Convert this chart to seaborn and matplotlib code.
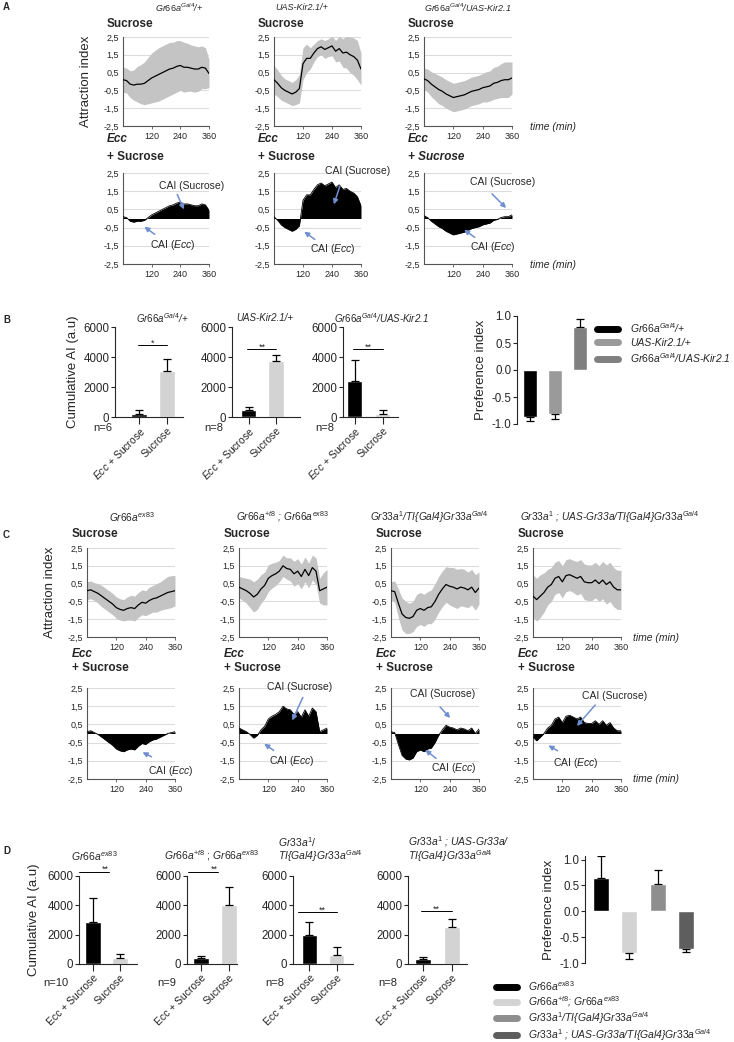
import numpy as np
import matplotlib
matplotlib.use('Agg')
import matplotlib.pyplot as plt
import seaborn as sns
from matplotlib.lines import Line2D

W, H = 734, 1042

# ---- data -------------------------------------------------------------
time_min = np.arange(0, 361, 15)

# attraction index (mean / SD), one value every 15 min
a_gal4_mean = [0.10, 0.05, -0.15, -0.20, -0.15, -0.15, -0.10, 0.05, 0.20, 0.30, 0.40, 0.50, 0.60,
               0.70, 0.75, 0.85, 0.90, 0.80, 0.80, 0.75, 0.70, 0.70, 0.80, 0.75, 0.45]
a_gal4_sd = [0.70, 0.70, 0.75, 0.85, 1.00, 1.10, 1.20, 1.30, 1.40, 1.45, 1.50, 1.50, 1.50,
             1.50, 1.45, 1.45, 1.40, 1.40, 1.35, 1.30, 1.30, 1.25, 1.20, 1.15, 0.80]
a_kir_mean = [0.10, -0.10, -0.35, -0.50, -0.60, -0.70, -0.60, -0.40, 1.00, 1.30, 1.30, 1.60, 1.85,
              1.95, 1.80, 1.90, 2.00, 1.70, 1.85, 1.60, 1.65, 1.50, 1.40, 1.20, 0.70]
a_kir_sd = [0.80, 0.75, 0.70, 0.65, 0.65, 0.65, 0.70, 0.80, 0.90, 0.80, 0.60, 0.50, 0.45,
            0.45, 0.50, 0.50, 0.55, 0.60, 0.70, 0.80, 0.90, 1.00, 1.05, 1.10, 0.90]
a_gal4kir_mean = [0.15, 0.05, -0.15, -0.30, -0.45, -0.55, -0.70, -0.80, -0.90, -0.85, -0.80, -0.75, -0.65,
                  -0.55, -0.50, -0.45, -0.35, -0.30, -0.25, -0.10, -0.05, 0.05, 0.10, 0.10, 0.20]
a_gal4kir_sd = [0.60, 0.65, 0.70, 0.75, 0.80, 0.80, 0.80, 0.80, 0.80, 0.80, 0.80, 0.80, 0.80,
                0.80, 0.80, 0.80, 0.80, 0.85, 0.85, 0.90, 0.90, 0.95, 1.00, 1.00, 0.90]

c_ex83_mean = [0.10, 0.15, 0.05, -0.05, -0.20, -0.35, -0.50, -0.65, -0.85, -0.95, -1.00, -0.90, -0.85,
               -0.90, -0.70, -0.55, -0.60, -0.45, -0.35, -0.30, -0.20, -0.10, 0.00, 0.05, 0.10]
c_ex83_sd = [0.50, 0.50, 0.50, 0.55, 0.60, 0.60, 0.60, 0.60, 0.60, 0.60, 0.60, 0.65, 0.70,
             0.70, 0.70, 0.70, 0.70, 0.75, 0.75, 0.80, 0.80, 0.85, 0.90, 0.90, 0.85]
c_t8_mean = [0.30, 0.20, 0.10, -0.05, -0.25, -0.10, 0.20, 0.40, 0.80, 0.95, 1.05, 1.20, 1.50,
             1.35, 1.30, 1.05, 1.20, 0.90, 1.30, 0.95, 1.40, 1.20, 0.10, 0.20, 0.30]
c_t8_sd = [0.60, 0.65, 0.70, 0.80, 0.85, 0.85, 0.80, 0.75, 0.75, 0.70, 0.65, 0.60, 0.60,
           0.60, 0.65, 0.70, 0.70, 0.70, 0.70, 0.70, 0.70, 0.75, 0.70, 0.90, 1.00]
c_gr33_mean = [0.10, 0.05, -0.60, -1.20, -1.40, -1.45, -1.35, -1.00, -0.90, -1.00, -0.85, -0.80, -0.50,
               -0.10, 0.20, 0.45, 0.35, 0.30, 0.20, 0.30, 0.25, 0.15, 0.30, 0.00, 0.25]
c_gr33_sd = [0.50, 0.60, 0.80, 0.90, 0.90, 0.85, 0.85, 0.90, 0.90, 0.90, 0.90, 0.95, 1.00,
             1.00, 1.00, 1.00, 1.05, 1.10, 1.10, 1.05, 1.05, 1.00, 1.00, 1.00, 0.90]
c_resc_mean = [-0.20, -0.40, -0.20, 0.00, 0.30, 0.45, 0.80, 0.90, 0.60, 0.95, 1.00, 0.90, 0.80,
               0.90, 0.60, 0.55, 0.55, 0.70, 0.50, 0.70, 0.45, 0.60, 0.30, 0.15, 0.15]
c_resc_sd = [1.20, 1.20, 1.20, 1.10, 1.00, 0.95, 0.90, 0.90, 0.90, 0.90, 0.90, 0.90, 0.95,
             0.95, 1.00, 1.00, 1.00, 1.00, 1.00, 1.05, 1.10, 1.10, 1.10, 1.10, 1.10]

# cumulative AI bars (mean, upper error)
b_ecc = [200, 450, 2420]
b_ecc_err = [250, 230, 1380]
b_suc = [3050, 3730, 200]
b_suc_err = [800, 380, 250]
b_n = ['n=6', 'n=8', 'n=8']
b_sig = ['*', '**', '**']

d_ecc = [2880, 380, 2000, 360]
d_ecc_err = [1600, 150, 860, 100]
d_suc = [390, 4050, 640, 2520]
d_suc_err = [290, 1230, 500, 530]
d_n = ['n=10', 'n=9', 'n=8', 'n=8']

# preference index
b_pref = [-0.87, -0.82, 0.80]
b_pref_err = [0.08, 0.08, 0.15]
d_pref = [0.65, -0.80, 0.52, -0.72]
d_pref_err = [0.42, 0.12, 0.28, 0.06]

b_labels = [r'$Gr66a^{Gal4}$/+', 'UAS-Kir2.1/+', r'$Gr66a^{Gal4}$/UAS-Kir2.1']
c_labels = [r'$Gr66a^{ex83}$', r'$Gr66a^{+t8}$ ; $Gr66a^{ex83}$',
            r'$Gr33a^{1}$/TI{Gal4}$Gr33a^{Gal4}$',
            r'$Gr33a^{1}$ ; UAS-Gr33a/TI{Gal4}$Gr33a^{Gal4}$']
d_leg = [r'$Gr66a^{ex83}$', r'$Gr66a^{+t8}$; $Gr66a^{ex83}$',
         r'$Gr33a^{1}$/TI{Gal4}$Gr33a^{Gal4}$',
         r'$Gr33a^{1}$ ; UAS-Gr33a/TI{Gal4}$Gr33a^{Gal4}$']
b_colors = ['#000000', '#9a9a9a', '#808080']
d_colors = ['#000000', '#d3d3d3', '#8e8e8e', '#5e5e5e']
light = '#d3d3d3'
blue = '#6f8fd0'

# ---- style --------------------------------------------------------------
sns.set_style('ticks')
plt.rcParams['font.family'] = ['Liberation Sans', 'DejaVu Sans']
plt.rcParams['mathtext.fontset'] = 'custom'
plt.rcParams['mathtext.rm'] = 'Liberation Sans'
plt.rcParams['mathtext.it'] = 'Liberation Sans:italic'
plt.rcParams['mathtext.bf'] = 'Liberation Sans:bold'
plt.rcParams['mathtext.default'] = 'it'

fig = plt.figure(figsize=(W / 100, H / 100), dpi=100)


def px_axes(x0, y0, x1, y1):
    return fig.add_axes([x0 / W, 1 - y1 / H, (x1 - x0) / W, (y1 - y0) / H])


def ftext(x, y, s, **kw):
    kw.setdefault('va', 'center')
    fig.text(x / W, 1 - y / H, s, **kw)


def trace_axes(ax, mean, sd, filled):
    mean = np.array(mean)
    sd = np.array(sd)
    if filled:
        ax.fill_between(time_min, 0, mean, color='black', lw=0, zorder=3)
        sns.lineplot(x=time_min, y=mean, color='black', lw=0.6, ax=ax, zorder=3)
    else:
        ax.fill_between(time_min, mean - sd, mean + sd, color='#c4c4c4', lw=0, zorder=2)
        sns.lineplot(x=time_min, y=mean, color='black', lw=0.9, ax=ax, zorder=3)
    ax.set_xlim(0, 360)
    ax.set_ylim(-2.5, 2.5)
    yt = [-2.5, -1.5, -0.5, 0.5, 1.5, 2.5]
    ax.set_yticks(yt)
    ax.set_yticklabels([f'{v:.1f}'.replace('.', ',') for v in yt], fontsize=6.5)
    ax.set_xticks([120, 240, 360])
    ax.set_xticklabels(['120', '240', '360'], fontsize=6.5)
    ax.tick_params(axis='y', length=0, pad=3)
    ax.tick_params(axis='x', length=2, width=0.6, color='#555555', pad=2)
    ax.yaxis.grid(True, color='#dcdcdc', lw=0.8)
    ax.set_axisbelow(True)
    for s in ['top', 'right']:
        ax.spines[s].set_visible(False)
    for s in ['left', 'bottom']:
        ax.spines[s].set_color('#555555')
        ax.spines[s].set_linewidth(0.8)
    ax.set_xlabel('')
    ax.set_ylabel('')


def cai_note(ax, txt, txy, tail, head):
    ax.text(txy[0], txy[1], txt, ha='center', va='center', fontsize=7.5, zorder=5, clip_on=False)
    ax.annotate('', xy=head, xytext=tail, annotation_clip=False,
                arrowprops=dict(arrowstyle='-|>', color=blue, lw=1.1, mutation_scale=7), zorder=6)


def bar_axes(ax, ecc, ecc_err, suc, suc_err, xlim, ecc_label):
    cats = [ecc_label, 'Sucrose']
    sns.barplot(x=cats, y=[ecc, suc], hue=cats, palette=['black', light], width=0.56,
                legend=False, ax=ax, saturation=1)
    ax.errorbar([0, 1], [ecc, suc], yerr=[[0, 0], [ecc_err, suc_err]], fmt='none',
                ecolor='black', elinewidth=0.9, capsize=3, capthick=0.9)
    ax.set_xlim(*xlim)
    ax.set_ylim(0, 6000)
    ax.set_yticks([0, 2000, 4000, 6000])
    ax.set_xticks([0, 1])
    ax.set_xticklabels(cats, rotation=45, ha='right', rotation_mode='anchor', fontsize=7.5)
    ax.tick_params(axis='y', labelsize=8.3, length=3, width=0.8, pad=1)
    ax.tick_params(axis='x', length=5, width=0.8, pad=1)
    for s in ['top', 'right']:
        ax.spines[s].set_visible(False)
    for s in ['left', 'bottom']:
        ax.spines[s].set_linewidth(0.8)
    ax.set_xlabel('')
    ax.set_ylabel('')


def sig(ax, x0, x1, y, s, xs):
    ax.plot([x0, x1], [y, y], color='black', lw=0.7, clip_on=False)
    ax.text(xs, y + 150, s, ha='center', va='center', fontsize=6.5, clip_on=False)


def pref_axes(ax, vals, errs, colors, xlim, ylim):
    cats = [str(i) for i in range(len(vals))]
    sns.barplot(x=cats, y=vals, hue=cats, palette=colors, width=0.56, legend=False,
                ax=ax, saturation=1)
    lo = [e if v < 0 else 0 for v, e in zip(vals, errs)]
    hi = [e if v >= 0 else 0 for v, e in zip(vals, errs)]
    ax.errorbar(range(len(vals)), vals, yerr=[lo, hi], fmt='none', ecolor='black',
                elinewidth=0.9, capsize=3, capthick=0.9)
    ax.set_xlim(*xlim)
    ax.set_ylim(*ylim)
    ax.set_yticks([-1.0, -0.5, 0.0, 0.5, 1.0])
    ax.set_yticklabels(['-1.0', '-0.5', '0.0', '0.5', '1.0'])
    ax.set_xticks([])
    ax.tick_params(axis='y', labelsize=8.3, length=3, width=0.8, pad=1)
    for s in ['top', 'right', 'bottom']:
        ax.spines[s].set_visible(False)
    ax.spines['left'].set_linewidth(0.8)
    ax.spines['left'].set_bounds(-1.0, ylim[1])
    ax.set_xlabel('')
    ax.set_ylabel('Preference index', fontsize=9.5, labelpad=3)


# ---- panel A --------------------------------------------------------------
ftext(3, 7, 'A', fontsize=7, weight='bold')
a_x = [(123, 209), (274, 361), (424, 512)]
a_titles = [r'$Gr66a^{Gal4}$/+', 'UAS-Kir2.1/+', r'$Gr66a^{Gal4}$/UAS-Kir2.1']
a_means = [a_gal4_mean, a_kir_mean, a_gal4kir_mean]
a_sds = [a_gal4_sd, a_kir_sd, a_gal4kir_sd]
a_tc = [179, 302, 468]
for i in range(3):
    x0, x1 = a_x[i]
    ftext(a_tc[i], 8, a_titles[i], fontsize=6.5, style='italic', ha='center')
    ftext(x0 - 16, 24, 'Sucrose', fontsize=8.5, weight='bold')
    ftext(x0 - 16, 139, 'Ecc', fontsize=8.5, weight='bold', style='italic')
    ftext(x0 - 16, 157, '+ Sucrose', fontsize=8.5, weight='bold',
          style='italic' if i == 2 else 'normal')
    top = px_axes(x0, 37, x1, 126)
    trace_axes(top, a_means[i], a_sds[i], False)
    bot = px_axes(x0, 173, x1, 264)
    trace_axes(bot, a_means[i], a_sds[i], True)
    if i == 0:
        top.set_ylabel('Attraction index', fontsize=9.5, labelpad=8)
        cai_note(bot, 'CAI (Sucrose)', (289, 1.79), (222, 1.46), (260, 0.36))
        cai_note(bot, 'CAI ($Ecc$)', (209, -1.45), (142, -0.96), (80, -0.36))
    elif i == 1:
        cai_note(bot, 'CAI (Sucrose)', (345, 2.61), (277, 1.95), (244, 0.63))
        cai_note(bot, 'CAI ($Ecc$)', (244, -1.68), (178, -1.24), (116, -0.63))
    else:
        cai_note(bot, 'CAI (Sucrose)', (323, 2.0), (270, 1.46), (344, 0.47))
        cai_note(bot, 'CAI ($Ecc$)', (283, -1.57), (217, -1.13), (155, -0.52))
ftext(530, 127, 'time (min)', fontsize=7.5, style='italic')
ftext(530, 265, 'time (min)', fontsize=7.5, style='italic')

# ---- panel B --------------------------------------------------------------
ftext(3, 320, 'B', fontsize=7, weight='bold')
b_pos = [(115, 183, (-0.86, 1.57)), (232, 300, (-0.6, 1.87)), (343, 398, (-0.41, 1.55))]
b_tc = [162, 265, 381]
b_sig_y = [4800, 4530, 4530]
b_n_x = [93, 204, 315]
for i in range(3):
    x0, x1, xl = b_pos[i]
    ax = px_axes(x0, 327, x1, 417)
    bar_axes(ax, b_ecc[i], b_ecc_err[i], b_suc[i], b_suc_err[i], xl, '$Ecc$ + Sucrose')
    sig(ax, -0.04, 1.0, b_sig_y[i], b_sig[i], 0.5)
    ftext(b_tc[i], 318, b_labels[i], fontsize=7, style='italic', ha='center')
    ftext(b_n_x[i], 428, b_n[i], fontsize=8)
    if i == 0:
        ax.set_ylabel('Cumulative AI (a.u)', fontsize=9.5, labelpad=3)

ax = px_axes(517, 316, 590, 424)
pref_axes(ax, b_pref, b_pref_err, b_colors, (-0.54, 2.4), (-1.0, 1.0))
handles = [Line2D([], [], color=c, lw=5) for c in b_colors]
fig.legend(handles, b_labels, loc='upper left', bbox_to_anchor=(597 / W, 1 - 321 / H),
           frameon=False, handlelength=2.0, handletextpad=1.2,
           labelspacing=0.3, borderpad=0, borderaxespad=0, prop={'style': 'italic', 'size': 7.5})

# ---- panel C --------------------------------------------------------------
ftext(3, 535, 'C', fontsize=7, weight='bold')
c_x = [(87, 175), (239, 327), (391, 479), (533, 621)]
c_means = [c_ex83_mean, c_t8_mean, c_gr33_mean, c_resc_mean]
c_sds = [c_ex83_sd, c_t8_sd, c_gr33_sd, c_resc_sd]
c_tc = [132, 283, 429, 610]
for i in range(4):
    x0, x1 = c_x[i]
    ftext(c_tc[i], 517, c_labels[i], fontsize=7.3, style='italic', ha='center')
    ftext(x0 - 15, 534, 'Sucrose', fontsize=8.5, weight='bold')
    ftext(x0 - 15, 654, 'Ecc', fontsize=8.5, weight='bold', style='italic')
    ftext(x0 - 15, 668, '+ Sucrose', fontsize=8.5, weight='bold')
    top = px_axes(x0, 548, x1, 637)
    trace_axes(top, c_means[i], c_sds[i], False)
    bot = px_axes(x0, 688, x1, 779)
    trace_axes(bot, c_means[i], c_sds[i], True)
    if i == 0:
        top.set_ylabel('Attraction index', fontsize=9.5, labelpad=8)
        cai_note(bot, 'CAI ($Ecc$)', (344, -2.06), (274, -1.35), (217, -0.96))
    elif i == 1:
        cai_note(bot, 'CAI (Sucrose)', (250, 2.55), (266, 2.12), (213, 0.58))
        cai_note(bot, 'CAI ($Ecc$)', (217, -1.51), (151, -1.02), (94, -0.47))
    elif i == 2:
        cai_note(bot, 'CAI (Sucrose)', (213, 2.17), (193, 1.57), (250, 0.74))
        cai_note(bot, 'CAI ($Ecc$)', (258, -1.9), (193, -1.46), (131, -0.8))
    else:
        cai_note(bot, 'CAI (Sucrose)', (335, 2.06), (262, 1.68), (172, 0.3))
        cai_note(bot, 'CAI ($Ecc$)', (176, -1.62), (110, -1.02), (53, -0.58))
ftext(633, 638, 'time (min)', fontsize=7.5, style='italic')
ftext(633, 779, 'time (min)', fontsize=7.5, style='italic')

# ---- panel D --------------------------------------------------------------
ftext(3, 851, 'D', fontsize=7, weight='bold')
d_pos = [(79, 137, (-0.52, 1.63)), (187, 237, (-0.5, 1.28)),
         (293, 353, (-0.61, 1.61)), (408, 467, (-0.53, 1.54))]
d_sig = [(-0.52, 0.6, 6300, 0.44), (-0.46, 0.6, 6300, 0.46),
         (-0.43, 1.0, 3545, 0.46), (-0.07, 1.0, 3610, 0.46)]
d_n_x = [43, 157, 265, 378]
for i in range(4):
    x0, x1, xl = d_pos[i]
    ax = px_axes(x0, 876, x1, 964)
    bar_axes(ax, d_ecc[i], d_ecc_err[i], d_suc[i], d_suc_err[i], xl, 'Ecc + Sucrose')
    sig(ax, d_sig[i][0], d_sig[i][1], d_sig[i][2], '**', d_sig[i][3])
    ftext(d_n_x[i], 983, d_n[i], fontsize=8)
    if i == 0:
        ax.set_ylabel('Cumulative AI (a.u)', fontsize=9.5, labelpad=5)
ftext(94, 856, r'$Gr66a^{ex83}$', fontsize=7.5, ha='center')
ftext(212, 856, r'$Gr66a^{+t8}$ ; $Gr66a^{ex83}$', fontsize=7.5, ha='center')
ftext(278, 842, r'$Gr33a^{1}$/', fontsize=7.5)
ftext(278, 856, r'TI{Gal4}$Gr33a^{Gal4}$', fontsize=7.5, style='italic')
ftext(408, 842, r'$Gr33a^{1}$ ; UAS-Gr33a/', fontsize=7.5, style='italic')
ftext(408, 856, r'TI{Gal4}$Gr33a^{Gal4}$', fontsize=7.5, style='italic')

ax = px_axes(585, 856, 700, 963)
pref_axes(ax, d_pref, d_pref_err, d_colors, (-0.57, 3.5), (-1.0, 1.07))
handles = [Line2D([], [], color=c, lw=5) for c in d_colors]
fig.legend(handles, d_leg, loc='upper left', bbox_to_anchor=(496 / W, 1 - 979 / H),
           frameon=False, handlelength=2.0, handletextpad=1.1,
           labelspacing=0.12, borderpad=0, borderaxespad=0, prop={'style': 'italic', 'size': 7.5})

fig.savefig('out.png', dpi=100)
